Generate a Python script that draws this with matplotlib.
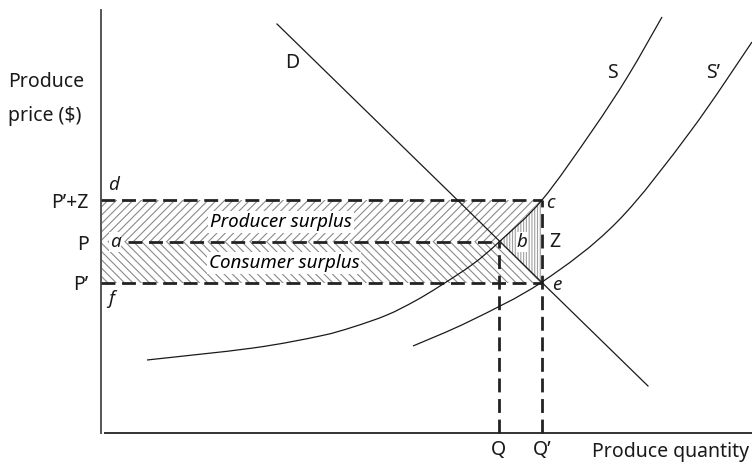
import matplotlib.pyplot as plt
from matplotlib.patches import Polygon, PathPatch
from matplotlib.path import Path

plt.rcParams['font.family'] = ['Noto Sans', 'DejaVu Sans']
plt.rcParams['hatch.linewidth'] = 0.8

# price levels (chart units, origin at the axes corner)
p_top = 233   # P'+Z
p_mid = 191   # P
p_low = 150   # P'
# quantities
q_eq = 398    # Q
q_new = 441   # Q'

ytick_pos = [p_top, p_mid, p_low]
ytick_labels = ["P\u2019+Z", "P", "P\u2019"]
xtick_pos = [q_eq, q_new]
xtick_labels = ["Q", "Q\u2019"]

# demand line D
demand_q = [176, 547]
demand_p = [409, 47]

# supply curve S
supply_q = [46, 152, 219, 252, 286, 314, 339, 372, 398, 441, 491, 527, 561]
supply_p = [73, 85, 97, 106, 118, 132, 147, 169, 191, 233, 302, 357, 416]

# shifted supply curve S'
supply2_q = [312, 369, 441, 516, 589, 651]
supply2_p = [87, 112, 151, 211, 301, 391]


def smooth_curve(ax, xs, ys, **kw):
    # cubic bezier pieces (catmull-rom style) through the read points
    pts = list(zip(xs, ys))
    n = len(pts)
    verts = [pts[0]]
    codes = [Path.MOVETO]
    for i in range(n - 1):
        p0 = pts[max(i - 1, 0)]
        p1 = pts[i]
        p2 = pts[i + 1]
        p3 = pts[min(i + 2, n - 1)]
        c1 = (p1[0] + (p2[0] - p0[0]) / 6, p1[1] + (p2[1] - p0[1]) / 6)
        c2 = (p2[0] - (p3[0] - p1[0]) / 6, p2[1] - (p3[1] - p1[1]) / 6)
        verts += [c1, c2, p2]
        codes += [Path.CURVE4] * 3
    ax.add_patch(PathPatch(Path(verts, codes), facecolor='none', **kw))


fig = plt.figure(figsize=(7.52, 4.66), dpi=100)
ax = fig.add_axes([0, 0, 1, 1])
ax.set_xlim(-101, 651)
ax.set_ylim(-33, 433)

# shaded areas
producer = Polygon([(0, p_mid), (q_eq, p_mid), (q_new, p_top), (0, p_top)],
                   closed=True, facecolor='none', edgecolor='#8a8a8a',
                   linewidth=0, hatch='////', zorder=1)
consumer = Polygon([(0, p_low), (q_new, p_low), (q_eq, p_mid), (0, p_mid)],
                   closed=True, facecolor='none', edgecolor='#8a8a8a',
                   linewidth=0, hatch='\\\\\\\\', zorder=1)
area_b = Polygon([(q_eq, p_mid), (q_new, p_top), (q_new, p_low)],
                 closed=True, facecolor='none', edgecolor='#a0a0a0',
                 linewidth=0, hatch='||||||', zorder=1)
for patch in (producer, consumer, area_b):
    ax.add_patch(patch)

# dashed guide lines
dash = dict(color='#222222', linewidth=2.0, dashes=(5, 2.4), zorder=3)
ax.plot([0, q_new], [p_top, p_top], **dash)
ax.plot([27, q_eq], [p_mid, p_mid], **dash)
ax.plot([0, q_new], [p_low, p_low], **dash)
ax.plot([q_eq, q_eq], [0, p_mid], **dash)
ax.plot([q_new, q_new], [0, p_top], **dash)

# curves
ax.plot(demand_q, demand_p, color='#1a1a1a', linewidth=0.9, zorder=4)
smooth_curve(ax, supply_q, supply_p, edgecolor='#1a1a1a', linewidth=0.9, zorder=4)
smooth_curve(ax, supply2_q, supply2_p, edgecolor='#1a1a1a', linewidth=0.9, zorder=4)

# axes
for side in ('top', 'right'):
    ax.spines[side].set_visible(False)
ax.spines['left'].set_position(('data', 0))
ax.spines['left'].set_bounds(0, 423)
ax.spines['left'].set_color('#555555')
ax.spines['left'].set_linewidth(1.4)
ax.spines['bottom'].set_position(('data', 0))
ax.spines['bottom'].set_bounds(4, 651)
ax.spines['bottom'].set_color('#333333')
ax.spines['bottom'].set_linewidth(1.4)

ax.set_xticks(xtick_pos, xtick_labels)
ax.set_yticks(ytick_pos, ytick_labels)
ax.tick_params(length=0, labelsize=14, colors='#1a1a1a')
ax.tick_params(axis='y', pad=9)
ax.tick_params(axis='x', pad=5)

ax.text(-93, 334, "Produce\nprice ($)", fontsize=14, ha='left', va='center',
        linespacing=1.9, color='#1a1a1a')
ax.text(491, -19, "Produce quantity", fontsize=14, ha='left', va='center',
        color='#1a1a1a')

white = dict(facecolor='white', edgecolor='none', pad=1.5)
ax.text(180, 211, "Producer surplus", fontsize=13.5, style='italic',
        ha='center', va='center', bbox=white, zorder=2)
ax.text(183, 170, "Consumer surplus", fontsize=13.5, style='italic',
        ha='center', va='center', bbox=white, zorder=2)

italic = dict(fontsize=13.5, style='italic', color='#1a1a1a')
ax.text(7, 248, "d", ha='left', va='center', **italic)
ax.text(9, p_mid, "a", ha='left', va='center',
        bbox=dict(facecolor='white', edgecolor='none', pad=0.5), zorder=2, **italic)
ax.text(7, 134, "f", ha='left', va='center', **italic)
ax.text(445, 230, "c", ha='left', va='center', **italic)
ax.text(421, p_mid, "b", ha='center', va='center',
        bbox=dict(facecolor='white', edgecolor='none', pad=0.5), zorder=2, **italic)
ax.text(451, 148, "e", ha='left', va='center', **italic)

ax.text(448, p_mid, "Z", fontsize=14, ha='left', va='center', color='#1a1a1a')
ax.text(191, 370, "D", fontsize=14, ha='center', va='center', color='#1a1a1a')
ax.text(511, 360, "S", fontsize=14, ha='center', va='center', color='#1a1a1a')
ax.text(612, 360, "S\u2019", fontsize=14, ha='center', va='center', color='#1a1a1a')

fig.savefig("out.png", dpi=100)
